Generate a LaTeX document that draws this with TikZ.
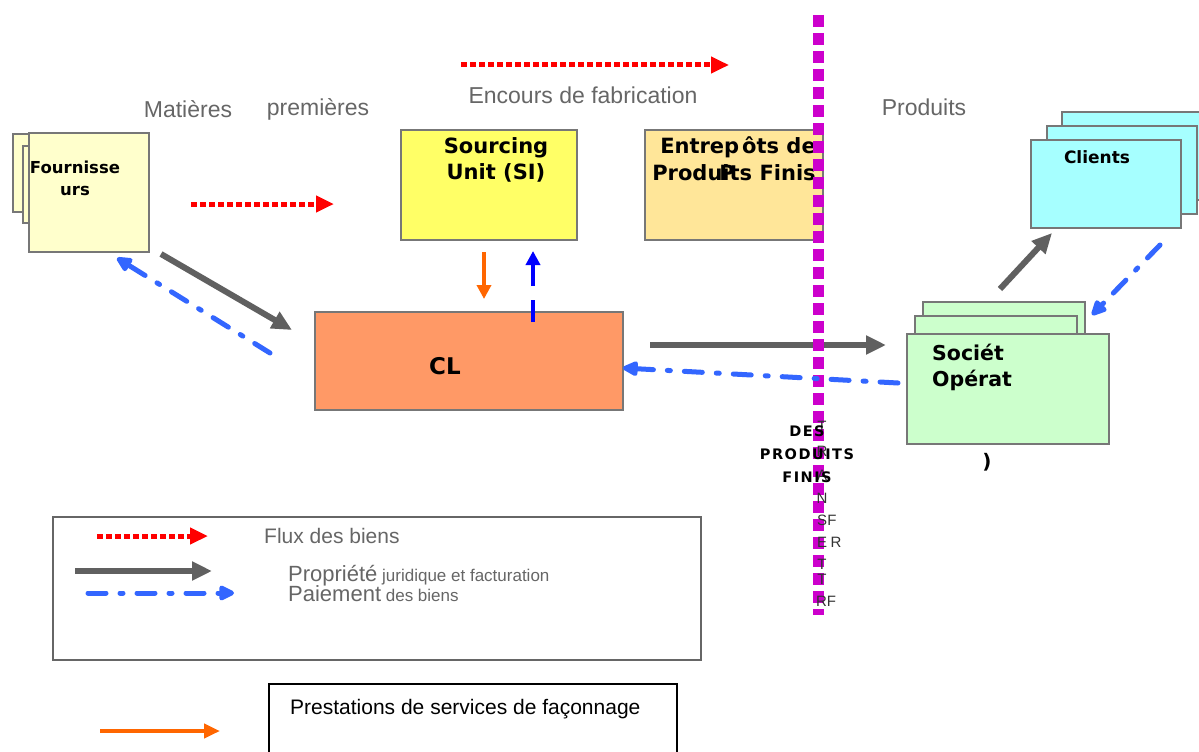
\documentclass[tikz,border=0pt]{standalone}
\usepackage{fontspec}
\setmainfont{Liberation Sans}
\newfontfamily\bfam{DejaVu Sans}
\usetikzlibrary{arrows.meta}
\definecolor{boxline}{HTML}{777777}
\definecolor{fourn}{HTML}{FFFFCC}
\definecolor{sunit}{HTML}{FFFF66}
\definecolor{entre}{HTML}{FFE699}
\definecolor{clbox}{HTML}{FF9966}
\definecolor{clients}{HTML}{A6FFFF}
\definecolor{soc}{HTML}{CCFFCC}
\definecolor{magline}{HTML}{CC00CC}
\definecolor{grayarrow}{HTML}{606060}
\definecolor{payblue}{HTML}{3366FF}
\definecolor{labelgray}{HTML}{666666}
\definecolor{orangearr}{HTML}{FF6600}
\tikzset{
  box/.style={draw=boxline, line width=1.5pt, anchor=north west, inner sep=0pt},
  glabel/.style={text=labelgray, font=\fontsize{23}{25}\selectfont, inner sep=0pt},
  blabel/.style={text=black, font=\bfam\bfseries\fontsize{21}{26}\selectfont, inner sep=0pt, align=center},
  flux/.style={draw=red, line width=5pt, dash pattern=on 6pt off 3pt, -{Triangle[length=18pt,width=16pt]}},
  propr/.style={draw=grayarrow, line width=6pt, -{Triangle[length=20pt,width=18pt]}},
  paie/.style={draw=payblue, line width=5pt, line cap=round, dash pattern=on 18pt off 14pt on 3pt off 14pt, -{Triangle[length=18pt,width=16pt,round]}},
  vletter/.style={text=black!80, font=\fontsize{15}{15}\selectfont, inner sep=0pt},
}
\begin{document}
\begin{tikzpicture}[x=1pt,y=-1pt]
\useasboundingbox (0,0) rectangle (1199,752);
\fill[white] (0,0) rectangle (1199,752);

% Fournisseurs stack
\node[box, fill=fourn, minimum width=118, minimum height=78] (f3) at (12,133) {};
\node[box, fill=fourn, minimum width=118, minimum height=77] (f2) at (22,145) {};
\node[box, fill=fourn, minimum width=120, minimum height=119] (four) at (28,132) {};
\node[text=black, font=\bfam\bfseries\fontsize{16.5}{22}\selectfont, align=center, inner sep=0pt] (fourt) at (75,178) {Fournisse\\urs};

% Sourcing unit
\node[box, fill=sunit, minimum width=176, minimum height=110] (su) at (400,129) {};
\node[blabel] (sut) at (496,160) {Sourcing\\Unit  (SI)};

% Entrepots
\node[box, fill=entre, minimum width=178, minimum height=110] (ent) at (644,129) {};
\node[blabel] (entt1) at (738,147) {Entrep\kern3pt ôts de};
\node[blabel] (entt2) at (734,173) {Produ\rlap{\kern-3ptP}its Finis};

% CL
\node[box, fill=clbox, minimum width=308, minimum height=98] (cl) at (314,311) {};
\node[blabel, font=\bfam\bfseries\fontsize{23}{26}\selectfont] (clt) at (445,366) {CL};

% Clients stack
\node[box, fill=clients, minimum width=150, minimum height=88] (c3) at (1061,111) {};
\node[box, fill=clients, minimum width=150, minimum height=88] (c2) at (1046,125) {};
\node[box, fill=clients, minimum width=150, minimum height=88] (cli) at (1030,139) {};
\node[text=black, font=\bfam\bfseries\fontsize{17}{18}\selectfont, inner sep=0pt] (clit) at (1097,157) {Clients};

% Societes stack
\node[box, fill=soc, minimum width=162, minimum height=60] (s3) at (922,301) {};
\node[box, fill=soc, minimum width=162, minimum height=60] (s2) at (914,315) {};
\node[box, fill=soc, minimum width=202, minimum height=110] (soc) at (906,333) {};
\node[text=black, font=\bfam\bfseries\fontsize{20.5}{26}\selectfont, inner sep=0pt, anchor=north west, align=left] (soct) at (932,344) {Sociét\\Opérat};
\node[text=black, font=\bfam\bfseries\fontsize{20}{20}\selectfont, inner sep=0pt] (paren) at (987,462) {)};

% top labels
\node[glabel] (mat) at (188,109) {Matières};
\node[glabel] (prem) at (318,109) {premières};
\node[glabel] (enc) at (583,95) {Encours de fabrication};
\node[glabel] (prod) at (924,107) {Produits};

% flux arrows
\coordinate (fa1) at (461,65); \coordinate (fa2) at (729,65);
\draw[flux] (fa1) -- (fa2);
\coordinate (fb1) at (191,204); \coordinate (fb2) at (334,204);
\draw[flux] (fb1) -- (fb2);

% ownership arrows
\coordinate (g1a) at (161,254); \coordinate (g1b) at (292,330);
\draw[propr] (g1a) -- (g1b);
\coordinate (g2a) at (650,345); \coordinate (g2b) at (886,345);
\draw[propr] (g2a) -- (g2b);
\coordinate (g3a) at (1000,289); \coordinate (g3b) at (1052,233);
\draw[propr] (g3a) -- (g3b);

% payment arrows
\coordinate (p1a) at (270,353); \coordinate (p1b) at (117,258);
\draw[paie] (p1a) -- (p1b);
\coordinate (p3a) at (1160,245); \coordinate (p3b) at (1092,315);
\draw[paie] (p3a) -- (p3b);

% orange service arrow SI -> CL
\coordinate (o1a) at (484,252); \coordinate (o1b) at (484,299);
\draw[draw=orangearr, line width=4pt, -{Triangle[length=14pt,width=14pt]}] (o1a) -- (o1b);
% blue dashed CL -> SI
\coordinate (b1a) at (533,322); \coordinate (b1b) at (533,251);
\draw[draw=blue, line width=4pt, dash pattern=on 22pt off 14pt on 40pt off 0pt, -{Triangle[length=14pt,width=14pt]}] (b1a) -- (b1b);

% magenta separation line
\coordinate (m1) at (818,15); \coordinate (m2) at (818,615);
\draw[draw=magline, line width=11pt, dash pattern=on 12pt off 6pt] (m1) -- (m2);

% payment Societe -> CL (over the line)
\coordinate (p2a) at (898,383); \coordinate (p2b) at (623,368);
\draw[paie] (p2a) -- (p2b);

% vertical letters
\node[vletter] (v1) at (822,426) {T};
\node[vletter] (v2) at (822,451) {R};
\node[vletter] (v3) at (822,475) {A};
\node[vletter] (v4) at (822,498) {N};
\node[vletter] (v5) at (822,520) {S};
\node[vletter] (v5b) at (832,520) {F};
\node[vletter] (v6) at (822,542) {E};
\node[vletter] (v6b) at (836,542) {R};
\node[vletter] (v7) at (822,564) {T};
\node[vletter] (v8) at (822,579) {T};
\node[vletter] (v9) at (826,601) {RF};
\node[text=black, font=\bfam\bfseries\fontsize{14.5}{23}\selectfont, align=center, inner sep=0pt] (dpf) at (807,454) {D\kern1.5ptE\kern1.5ptS\\P\kern1.5ptR\kern1.5ptO\kern1.5ptD\kern1.5ptU\kern1.5ptI\kern1.5ptT\kern1.5ptS\\F\kern1.5ptI\kern1.5ptN\kern1.5ptI\kern1.5ptS};

% legend
\node[box, draw=black!60, minimum width=648, minimum height=143] (leg) at (52,516) {};
\coordinate (l1a) at (97,536); \coordinate (l1b) at (208,536);
\draw[flux] (l1a) -- (l1b);
\node[glabel, font=\fontsize{21}{22}\selectfont, anchor=west] (l1t) at (264,536) {Flux des biens};
\coordinate (l2a) at (75,571); \coordinate (l2b) at (212,571);
\draw[propr] (l2a) -- (l2b);
\node[glabel, font=\fontsize{22}{22}\selectfont, anchor=base west] (l2t) at (288,581) {Propriété{\fontsize{17}{18}\selectfont\ juridique et facturation}};
\coordinate (l3a) at (88,593); \coordinate (l3b) at (234,593);
\draw[paie] (l3a) -- (l3b);
\node[glabel, font=\fontsize{22}{22}\selectfont, anchor=base west] (l3t) at (288,601) {Paiement{\fontsize{17}{18}\selectfont\ des biens}};

% services box
\node[box, draw=black, line width=1.5pt, minimum width=408, minimum height=80] (serv) at (268,683) {};
\node[text=black, font=\fontsize{21}{22}\selectfont, anchor=west, inner sep=0pt] (servt) at (290,709) {Prestations de services de façonnage};
\coordinate (o2a) at (100,731); \coordinate (o2b) at (220,731);
\draw[draw=orangearr, line width=4pt, -{Triangle[length=16pt,width=14pt]}] (o2a) -- (o2b);
\end{tikzpicture}
\end{document}
